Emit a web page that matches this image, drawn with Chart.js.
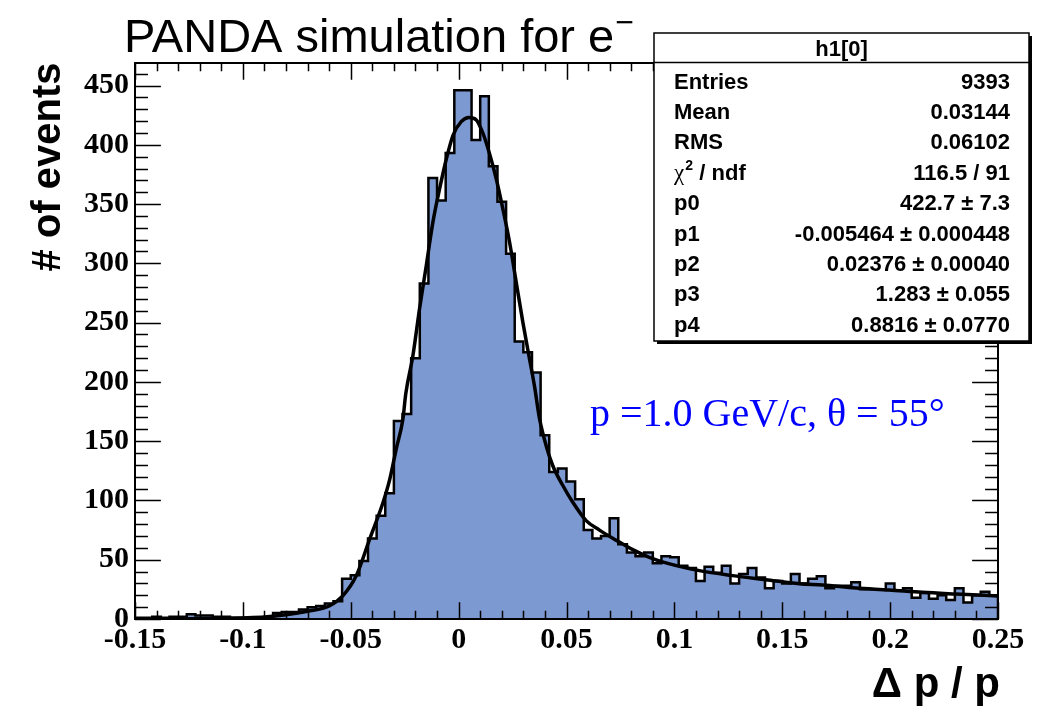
<!DOCTYPE html>
<html><head><meta charset="utf-8">
<script src="https://cdn.jsdelivr.net/npm/chart.js@4.4.1/dist/chart.umd.min.js"></script>
<style>html,body{margin:0;padding:0;background:#fff;}#wrap{width:1045px;height:712px;}</style>
</head><body><div id="wrap"><canvas id="c" width="1045" height="712"></canvas></div>
<script>
// ---- data ----
const binLow = -0.15;
const binWidth = 0.004;
const binCounts = [
  1,1,2,1,2,2,4,3,3,2,
  2,1,1,0,1,1,5,6,6,8,
  10,11,13,15,34,37,49,68,87,106,
  167,173,220,283,372,353,393,446,446,404,
  441,382,352,308,234,225,208,155,124,127,
  116,101,75,68,70,85,63,56,53,56,
  47,53,52,45,43,32,44,39,45,30,
  38,43,35,26,32,30,38,30,34,36,
  26,28,28,31,25,25,25,30,24,26,
  18,22,17,20,16,26,14,20,23,20
];
const fitX = [-0.15,-0.13,-0.11,-0.1,-0.09,-0.08,-0.07,-0.06,-0.0536,-0.0474,-0.0412,-0.035,-0.0319,-0.0289,-0.0258,-0.0245,-0.0212,-0.0181,-0.015,-0.0119,-0.0088,-0.0057,-0.0026,0.0012,0.0048,0.0082,0.0113,0.0143,0.0174,0.0205,0.0236,0.0267,0.0298,0.0329,0.0352,0.0375,0.0406,0.0436,0.0483,0.0529,0.0591,0.0653,0.073,0.0807,0.0884,0.0961,0.1116,0.127,0.1424,0.158,0.1687,0.1841,0.1995,0.215,0.2304,0.25];
const fitY = [0.1,0.2,0.5,0.9,1.6,3.5,6.5,11,19.7,36.6,67.6,98.5,118,143.6,169,190,222,262,298,335,363,388,408,419.5,423,421,409.6,392.7,371.6,346,318,284,250,219,196,169,146,129.5,112.6,98.5,83,75,66.5,58.5,52,47.3,40.8,36.6,33.2,29.8,28.7,26.2,24.5,22.5,21.1,19.5];
const xTickValues = [-0.15,-0.1,-0.05,0,0.05,0.1,0.15,0.2,0.25];
const xTickLabels = ["-0.15","-0.1","-0.05","0","0.05","0.1","0.15","0.2","0.25"];
const yTickValues = [0,50,100,150,200,250,300,350,400,450];
const yTickLabels = ["0","50","100","150","200","250","300","350","400","450"];
const xMin = -0.15, xMax = 0.25, yMin = 0, yMax = 469;
const xMinorStep = 0.01, yMinorStep = 10;
const titleText = "PANDA simulation for e";
const xTitle = "\u0394 p / p";
const yTitle = "# of events";
const noteText = "p =1.0 GeV/c, \u03b8 = 55\u00b0";
const statsTitle = "h1[0]";
const statsNames = ["Entries","Mean","RMS","CHI","p0","p1","p2","p3","p4"];
const statsValues = ["9393","0.03144","0.06102","116.5 / 91","422.7 \u00b1 7.3","-0.005464 \u00b1 0.000448","0.02376 \u00b1 0.00040","1.283 \u00b1 0.055","0.8816 \u00b1 0.0770"];

// ---- build datasets ----
const histPts = [{x: binLow, y: 0}];
for (let i = 0; i < binCounts.length; i++) histPts.push({x: binLow + i*binWidth, y: binCounts[i]});
histPts.push({x: binLow + binCounts.length*binWidth, y: binCounts[binCounts.length-1]});
histPts.push({x: binLow + binCounts.length*binWidth, y: 0});
const fitPts = fitX.map((x,i)=>({x, y: fitY[i]}));

const SANS = '"Liberation Sans", Arial, sans-serif';
const SERIF = '"Liberation Serif", "Times New Roman", serif';

const decor = {
  id: 'decor',
  afterDatasetsDraw(chart) {
    const ctx = chart.ctx, a = chart.chartArea;
    const xs = chart.scales.x, ys = chart.scales.y;
    ctx.save();
    ctx.strokeStyle = '#000';
    ctx.lineWidth = 1.5;
    const W = a.right - a.left, H = a.bottom - a.top;
    const xMaj = 0.03*H, yMaj = 0.03*W;
    ctx.beginPath();
    const nx = Math.round((xMax - xMin)/xMinorStep);
    for (let i = 0; i <= nx; i++) {
      const v = xMin + i*xMinorStep;
      const px = Math.round(xs.getPixelForValue(v)) + 0.5;
      const major = (i % 5 === 0);
      const L = major ? xMaj : xMaj/2;
      ctx.moveTo(px, a.bottom); ctx.lineTo(px, a.bottom - L);
      ctx.moveTo(px, a.top); ctx.lineTo(px, a.top + L);
    }
    const ny = Math.floor((yMax - yMin)/yMinorStep);
    for (let i = 0; i <= ny; i++) {
      const v = yMin + i*yMinorStep;
      const py = Math.round(ys.getPixelForValue(v)) + 0.5;
      const major = (i % 5 === 0);
      const L = major ? yMaj : yMaj/2;
      ctx.moveTo(a.left, py); ctx.lineTo(a.left + L, py);
      ctx.moveTo(a.right, py); ctx.lineTo(a.right - L, py);
    }
    ctx.stroke();
    ctx.lineWidth = 2;
    ctx.strokeRect(a.left, a.top, W, H);
    ctx.restore();
  },
  afterDraw(chart) {
    const ctx = chart.ctx;
    ctx.save();
    // title
    ctx.fillStyle = '#000';
    ctx.font = '47px ' + SANS;
    ctx.textAlign = 'left'; ctx.textBaseline = 'alphabetic';
    ctx.fillText(titleText, 124, 52);
    const tw = ctx.measureText(titleText).width;
    ctx.font = '32px ' + SANS;
    ctx.fillText('\u2212', 124 + tw + 1, 33);
    // y title
    ctx.save();
    ctx.translate(60, 167);
    ctx.rotate(-Math.PI/2);
    ctx.font = 'bold 40px ' + SANS;
    ctx.textAlign = 'center';
    ctx.fillText(yTitle, 0, 0);
    ctx.restore();
    // x title
    ctx.font = 'bold 42px ' + SANS;
    ctx.textAlign = 'right';
    ctx.fillText(xTitle, 1000, 697);
    // note
    ctx.fillStyle = '#0000ff';
    ctx.font = '40px ' + SERIF;
    ctx.textAlign = 'left';
    ctx.fillText(noteText, 590, 426);
    // stats box
    const bx = 654, by = 33, bw = 375, bh = 308;
    ctx.fillStyle = '#000';
    ctx.fillRect(bx + 3, by + 3, bw, bh);
    ctx.fillStyle = '#fff';
    ctx.fillRect(bx, by, bw, bh);
    ctx.strokeStyle = '#000'; ctx.lineWidth = 1.5;
    ctx.strokeRect(bx, by, bw, bh);
    ctx.beginPath(); ctx.moveTo(bx, 62.5); ctx.lineTo(bx + bw, 62.5); ctx.stroke();
    ctx.fillStyle = '#000';
    ctx.font = 'bold 22px ' + SANS;
    ctx.textAlign = 'center';
    ctx.fillText(statsTitle, bx + bw/2, 56);
    for (let i = 0; i < statsNames.length; i++) {
      const yb = 88.5 + i*30.4;
      ctx.textAlign = 'left';
      ctx.font = 'bold 22px ' + SANS;
      if (statsNames[i] === 'CHI') {
        ctx.font = '23px ' + SERIF;
        ctx.fillText('\u03c7', 674, yb);
        const cw = ctx.measureText('\u03c7').width;
        ctx.font = 'bold 14px ' + SANS;
        ctx.fillText('2', 674 + cw + 1, yb - 10);
        ctx.font = 'bold 22px ' + SANS;
        ctx.fillText(' / ndf', 674 + cw + 9, yb);
      } else {
        ctx.fillText(statsNames[i], 674, yb);
      }
      ctx.textAlign = 'right';
      ctx.fillText(statsValues[i], 1010, yb);
    }
    ctx.restore();
  }
};

new Chart(document.getElementById('c'), {
  type: 'line',
  data: {
    datasets: [
      { label: 'fit', data: fitPts, borderColor: '#000', borderWidth: 3.5, pointRadius: 0,
        cubicInterpolationMode: 'monotone', fill: false, order: 0 },
      { label: 'h1', data: histPts, borderColor: '#000', borderWidth: 2.5, pointRadius: 0,
        stepped: 'before', fill: 'origin', backgroundColor: '#7d99d1', order: 1 }
    ]
  },
  options: {
    responsive: false, animation: false, devicePixelRatio: 1,
    layout: { padding: { left: 0, right: 47, top: 63, bottom: 0 } },
    plugins: { legend: { display: false }, tooltip: { enabled: false } },
    scales: {
      x: { type: 'linear', min: xMin, max: xMax,
        grid: { display: false, drawTicks: false }, border: { display: false },
        afterBuildTicks: s => { s.ticks = xTickValues.map(v => ({value: v})); },
        afterFit: s => { s.height = 93; },
        ticks: { color: '#000', padding: 3, maxRotation: 0, autoSkip: false,
          font: { family: SERIF, size: 30, weight: 'bold' },
          callback: (v, i) => xTickLabels[i] } },
      y: { type: 'linear', min: yMin, max: yMax,
        grid: { display: false, drawTicks: false }, border: { display: false },
        afterBuildTicks: s => { s.ticks = yTickValues.map(v => ({value: v})); },
        afterFit: s => { s.width = 135; },
        ticks: { color: '#000', padding: 6, autoSkip: false,
          font: { family: SERIF, size: 30, weight: 'bold' },
          callback: (v, i) => yTickLabels[i] } }
    }
  },
  plugins: [decor]
});
</script></body></html>
